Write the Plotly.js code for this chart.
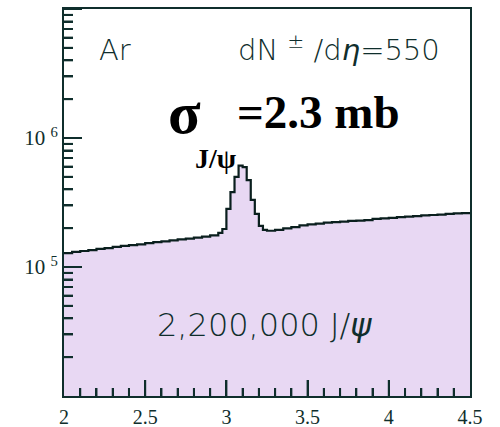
<!DOCTYPE html>
<html>
<head>
<meta charset="utf-8">
<script src="https://cdn.plot.ly/plotly-3.0.1.min.js"></script>
<style>html,body{margin:0;padding:0;background:#fff;}#chart{width:500px;height:427px;}</style>
</head>
<body>
<div id="chart"></div>
<script>
// Histogram bin edges (invariant mass, GeV) and counts per bin
const binEdges = [
  2.00, 2.05, 2.10, 2.15, 2.20, 2.25, 2.30, 2.35, 2.40, 2.45,
  2.50, 2.55, 2.60, 2.65, 2.70, 2.75, 2.80, 2.85, 2.90, 2.95,
  2.975, 3.00, 3.025, 3.05, 3.075, 3.10, 3.125, 3.15, 3.175, 3.20,
  3.225, 3.25, 3.30, 3.35, 3.40, 3.45, 3.50, 3.55, 3.60, 3.65,
  3.70, 3.75, 3.80, 3.85, 3.90, 3.95, 4.00, 4.05, 4.10, 4.15,
  4.20, 4.25, 4.30, 4.35, 4.40, 4.45, 4.50
];
const binCounts = [
  1.28e5, 1.31e5, 1.33e5, 1.35e5, 1.38e5, 1.40e5, 1.43e5, 1.46e5, 1.48e5, 1.50e5,
  1.53e5, 1.56e5, 1.58e5, 1.61e5, 1.64e5, 1.66e5, 1.69e5, 1.72e5, 1.76e5, 1.84e5,
  1.97e5, 2.82e5, 3.81e5, 4.99e5, 6.10e5, 5.95e5, 4.72e5, 3.31e5, 2.58e5, 2.08e5,
  1.94e5, 1.91e5, 1.94e5, 1.99e5, 2.04e5, 2.10e5, 2.14e5, 2.17e5, 2.21e5, 2.23e5,
  2.25e5, 2.28e5, 2.29e5, 2.31e5, 2.36e5, 2.38e5, 2.40e5, 2.44e5, 2.46e5, 2.48e5,
  2.51e5, 2.53e5, 2.55e5, 2.58e5, 2.60e5, 2.62e5
];
const xTickVals = [2, 2.5, 3, 3.5, 4, 4.5];
const xTickText = ['2', '2.5', '3', '3.5', '4', '4.5'];
const yTickVals = [1e5, 1e6];
const yTickText = ['10 <sup>5</sup>', '10 <sup>6</sup>'];

// step-line: repeat last count so the final bin is drawn to the last edge
const stepY = binCounts.concat([binCounts[binCounts.length - 1]]);

const ink = '#0f2e2c';
const serif = 'Liberation Serif, Times New Roman, serif';
const sans = 'DejaVu Sans, sans-serif';

// tick positions (axis decoration only)
const xMinor = [];
for (let i = 1; i < 25; i++) { if (i % 5 !== 0) xMinor.push(+(2 + i * 0.1).toFixed(2)); }
const yMajor = [1e5, 1e6, 1e7];
const yMinor = [];
[1e4, 1e5, 1e6].forEach(d => { for (let k = 2; k <= 9; k++) yMinor.push(k * d); });

const plotW = 500 - 64 - 30, plotH = 427 - 9 - 31;
const tickShapes = [];
const tl = (len, total) => len / total;
xTickVals.slice(1, -1).forEach(v => tickShapes.push({ type: 'line', layer: 'above', xref: 'x', yref: 'paper', x0: v, x1: v, y0: 0, y1: tl(16, plotH), line: { color: ink, width: 2 } }));
xMinor.forEach(v => tickShapes.push({ type: 'line', layer: 'above', xref: 'x', yref: 'paper', x0: v, x1: v, y0: 0, y1: tl(8, plotH), line: { color: ink, width: 2 } }));
yMajor.forEach(v => tickShapes.push({ type: 'line', layer: 'above', xref: 'paper', yref: 'y', x0: 0, x1: tl(18, plotW), y0: v, y1: v, line: { color: ink, width: 2 } }));
yMinor.forEach(v => tickShapes.push({ type: 'line', layer: 'above', xref: 'paper', yref: 'y', x0: 0, x1: tl(9, plotW), y0: v, y1: v, line: { color: ink, width: 2 } }));

const trace = {
  x: binEdges,
  y: stepY,
  type: 'scatter',
  mode: 'lines',
  line: { shape: 'hv', color: '#0a1f1e', width: 2.2 },
  fill: 'tozeroy',
  fillcolor: '#e8d8f3',
  hoverinfo: 'skip'
};

const layout = {
  width: 500, height: 427,
  margin: { l: 64, r: 30, t: 9, b: 31 },
  paper_bgcolor: '#ffffff',
  plot_bgcolor: '#ffffff',
  showlegend: false,
  xaxis: {
    range: [2, 4.5],
    tickmode: 'array', tickvals: xTickVals, ticktext: xTickText,
    ticks: 'inside', ticklen: 16, tickwidth: 2, tickcolor: ink,
    minor: { ticks: 'inside', dtick: 0.1, ticklen: 8, tickwidth: 2, tickcolor: ink, showgrid: false },
    showline: true, linecolor: ink, linewidth: 2, mirror: true,
    showgrid: false, zeroline: false,
    tickfont: { family: serif, size: 20, color: ink },
    ticklabelstandoff: 2
  },
  yaxis: {
    type: 'log',
    range: [4, 7],
    tickmode: 'array', tickvals: yTickVals, ticktext: yTickText,
    ticks: 'inside', ticklen: 18, tickwidth: 2, tickcolor: ink,
    minor: { ticks: 'inside', dtick: 'D1', ticklen: 9, tickwidth: 2, tickcolor: ink, showgrid: false },
    showline: true, linecolor: ink, linewidth: 2, mirror: true,
    showgrid: false, zeroline: false,
    tickfont: { family: serif, size: 21, color: ink }
  },
  shapes: tickShapes,
  annotations: [
    { xref: 'paper', yref: 'paper', x: 0.081, y: 0.894, xanchor: 'left', yanchor: 'middle',
      text: 'Ar', showarrow: false, font: { family: sans, size: 29, color: ink, weight: 300 } },
    { xref: 'paper', yref: 'paper', x: 0.424, y: 0.90, xanchor: 'left', yanchor: 'middle',
      text: 'dN <sup>±</sup> /d<i>η</i>=550', showarrow: false, font: { family: sans, size: 29, color: ink, weight: 300 } },
    { xref: 'paper', yref: 'paper', x: 0.298, y: 0.732, xanchor: 'center', yanchor: 'middle',
      text: 'σ', showarrow: false, font: { family: serif, size: 60, color: '#000', weight: 700 } },
    { xref: 'paper', yref: 'paper', x: 0.42, y: 0.733, xanchor: 'left', yanchor: 'middle',
      text: '=2.3 mb', showarrow: false, font: { family: serif, size: 47, color: '#000', weight: 700 } },
    { xref: 'paper', yref: 'paper', x: 0.374, y: 0.613, xanchor: 'center', yanchor: 'middle',
      text: 'J/ψ', showarrow: false, font: { family: serif, size: 28, color: '#000', weight: 700 } },
    { xref: 'paper', yref: 'paper', x: 0.225, y: 0.183, xanchor: 'left', yanchor: 'middle',
      text: '2,200,000 J/<i>ψ</i>', showarrow: false, font: { family: sans, size: 32, color: ink, weight: 300 } }
  ]
};

Plotly.newPlot('chart', [trace], layout, { displayModeBar: false });
</script>
</body>
</html>
